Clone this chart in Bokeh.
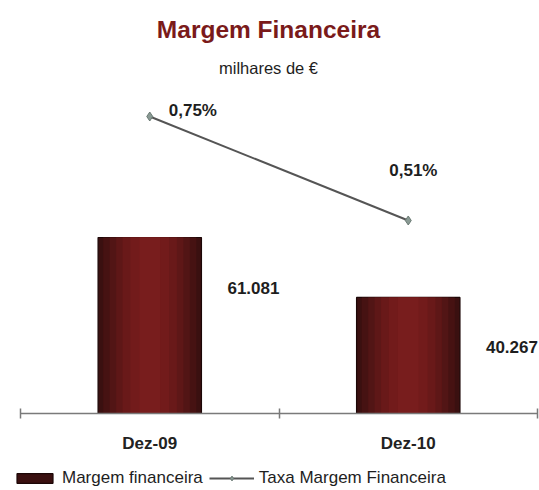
from bokeh.plotting import figure
from bokeh.models import (Range1d, LinearAxis, FixedTicker, Label, Legend,
                          LegendItem, ColumnDataSource)
from bokeh.transform import dodge
from bokeh.embed import file_html
from bokeh.resources import INLINE
from bokeh.core.properties import value

# ---- data ----
categories = ["Dez-09", "Dez-10"]
margem = [61081, 40267]          # milhares de €
taxa = [0.75, 0.51]              # %

FONT = "Liberation Sans"

xpos = [i + 0.5 for i in range(len(categories))]
src = ColumnDataSource(dict(
    x=xpos,
    margem=margem,
    taxa=taxa,
    margem_txt=[f"{v:,}".replace(",", ".") for v in margem],
    taxa_txt=[f"{v:.2f}".replace(".", ",") + "%" for v in taxa],
    pct_dx=[19, -19],
    pct_dy=[-6, -50],
))

n = len(categories)
top = max(margem)
p = figure(width=539, height=490, output_backend="svg", toolbar_location=None,
           x_range=Range1d(-0.0774 * n / 2, n + 0.0077 * n / 2),
           y_range=Range1d(-0.4375 * top, 2.3466 * top),
           min_border_left=0, min_border_right=0, min_border_top=0,
           min_border_bottom=0, x_axis_type=None, y_axis_type=None,
           background_fill_color="white", border_fill_color="white")
p.outline_line_color = None
p.extra_y_ranges = {"pct": Range1d(-0.1131, 1.0177)}

ax = LinearAxis(
    fixed_location=0, bounds=(0, n),
    ticker=FixedTicker(ticks=xpos, minor_ticks=list(range(n + 1))),
    major_label_overrides={x: c for x, c in zip(xpos, categories)},
    major_tick_in=0, major_tick_out=0, major_tick_line_color=None,
    minor_tick_in=5, minor_tick_out=5, minor_tick_line_color="#7a7a7a",
    minor_tick_line_width=1.5,
    axis_line_color="#7a7a7a", axis_line_width=1.5,
    major_label_text_font=FONT, major_label_text_font_size="17px",
    major_label_text_font_style="bold", major_label_text_color="#222222",
    major_label_standoff=15,
)
p.add_layout(ax, "below")

# bars with a shaded look (dark edges, red centre)
bar = p.vbar(x="x", top="margem", width=0.4, source=src,
             fill_color="#3a1010", line_color="#1c0707", line_width=1.2)
for w, c in [(0.36, "#461212"), (0.31, "#521515"), (0.26, "#5e1717"),
             (0.21, "#691919"), (0.15, "#721b1b"), (0.08, "#781d1d")]:
    p.vbar(x="x", top="margem", width=w, source=src, fill_color=c,
           line_color=None)

ln = p.line("x", "taxa", source=src, y_range_name="pct",
            line_color="#555555", line_width=2)
sc = p.scatter("x", "taxa", source=src, y_range_name="pct", marker="diamond",
               size=9, fill_color="#8a9a94", line_color="#6a7a74")

p.text(x="x", y="taxa", text="taxa_txt", source=src, y_range_name="pct",
       x_offset="pct_dx", y_offset="pct_dy", text_align="left",
       text_baseline="middle", text_font=value(FONT), text_font_size="17px",
       text_font_style="bold", text_color="#1e1e1e")

p.text(x=dodge("x", 0.2), y="margem", text="margem_txt", source=src,
       x_offset=26, y_offset=50, text_align="left", text_baseline="middle",
       text_font=value(FONT), text_font_size="17px", text_font_style="bold",
       text_color="#1e1e1e")

p.add_layout(Label(x=268, y=461, x_units="screen", y_units="screen",
                   text="Margem Financeira", text_align="center",
                   text_baseline="middle", text_font=FONT,
                   text_font_size="24.5px", text_font_style="bold",
                   text_color="#7a1a1a"))
p.add_layout(Label(x=268, y=423, x_units="screen", y_units="screen",
                   text="milhares de €", text_align="center",
                   text_baseline="middle", text_font=FONT,
                   text_font_size="16.5px", text_color="#1e1e1e"))

legend = Legend(items=[LegendItem(label="Margem financeira", renderers=[bar]),
                       LegendItem(label="Taxa Margem Financeira",
                                  renderers=[ln, sc])],
                orientation="horizontal", location=(12, 2),
                border_line_color=None, background_fill_alpha=0,
                padding=0, margin=0, glyph_width=45, glyph_height=12,
                label_text_font=FONT, label_text_font_size="17px",
                label_text_color="#1e1e1e",
                label_standoff=5, spacing=6)
p.add_layout(legend, "center")

open("out.html", "w").write(file_html(p, INLINE))
